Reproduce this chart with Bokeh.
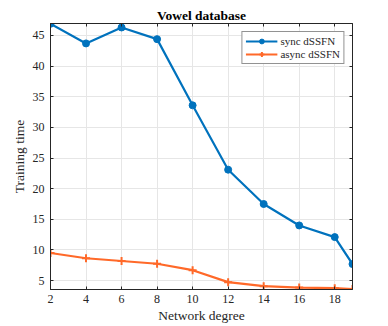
from bokeh.plotting import figure
from bokeh.models import Range1d, FixedTicker, LinearAxis, Legend, LegendItem
from bokeh.embed import file_html
from bokeh.resources import INLINE

degree = [2, 4, 6, 8, 10, 12, 14, 16, 18, 19]
sync_time = [46.9, 43.7, 46.3, 44.4, 33.6, 23.1, 17.5, 14.0, 12.1, 7.7]
async_time = [9.5, 8.65, 8.2, 7.75, 6.7, 4.75, 4.1, 3.87, 3.77, 3.62]
x_ticks = [2, 4, 6, 8, 10, 12, 14, 16, 18]
y_ticks = [5, 10, 15, 20, 25, 30, 35, 40, 45]

BLUE = "#0072BD"
ORANGE = "#FF6929"
AX = "#262626"
FONT = "Liberation Serif"

p = figure(width=388, height=326, output_backend="svg", toolbar_location=None,
           x_range=Range1d(2, 19), y_range=Range1d(3.55, 46.95),
           min_border_left=50, min_border_right=36, min_border_top=23, min_border_bottom=37)

p.title.text = "Vowel database"
p.title.text_font = FONT
p.title.text_font_size = "13.5px"
p.title.text_font_style = "bold"
p.title.align = "center"
p.title.text_color = "black"
p.title.standoff = 2
p.title.offset = 0

p.outline_line_color = AX
p.outline_line_width = 1
p.background_fill_color = "white"
p.border_fill_color = "white"

for ax, ticks, lab in ((p.xaxis[0], x_ticks, "Network degree"), (p.yaxis[0], y_ticks, "Training time")):
    ax.ticker = FixedTicker(ticks=ticks)
    ax.axis_label = lab
    ax.axis_label_text_font = FONT
    ax.axis_label_text_font_size = "13.5px"
    ax.axis_label_text_font_style = "normal"
    ax.axis_label_text_color = AX
    ax.major_label_text_font = FONT
    ax.major_label_text_font_size = "12px"
    ax.major_label_text_color = AX
    ax.axis_line_color = AX
    ax.major_tick_line_color = AX
    ax.major_tick_in = 3
    ax.major_tick_out = 0
    ax.minor_tick_line_color = None
p.xaxis[0].major_label_standoff = 5
p.xaxis[0].axis_label_standoff = 2
p.yaxis[0].major_label_standoff = 6
p.yaxis[0].axis_label_standoff = 3

# box ticks on top/right (labels blank)
top = LinearAxis(ticker=FixedTicker(ticks=x_ticks),
                 major_label_overrides={t: "" for t in x_ticks},
                 major_tick_in=3, major_tick_out=0, minor_tick_line_color=None,
                 axis_line_color=AX, major_tick_line_color=AX, major_label_standoff=0)
right = LinearAxis(ticker=FixedTicker(ticks=y_ticks),
                   major_label_overrides={t: "" for t in y_ticks},
                   major_tick_in=3, major_tick_out=0, minor_tick_line_color=None,
                   axis_line_color=AX, major_tick_line_color=AX, major_label_standoff=0)
p.add_layout(top, "above")
p.add_layout(right, "right")

p.xgrid.ticker = FixedTicker(ticks=x_ticks)
p.ygrid.ticker = FixedTicker(ticks=y_ticks)
p.grid.grid_line_color = "#E6E6E6"
p.grid.grid_line_width = 1

l1 = p.line(degree, sync_time, line_color=BLUE, line_width=2.2)
m1 = p.scatter(degree, sync_time, marker="circle", size=7, fill_color=BLUE, line_color=BLUE)
l2 = p.line(degree, async_time, line_color=ORANGE, line_width=2.2)
m2 = p.scatter(degree, async_time, marker="cross", size=8, line_color=ORANGE, line_width=2)

legend = Legend(items=[LegendItem(label="sync dSSFN", renderers=[l1, m1]),
                       LegendItem(label="async dSSFN", renderers=[l2, m2])],
                location="top_right")
legend.label_text_font = FONT
legend.label_text_font_size = "11px"
legend.label_text_color = AX
legend.border_line_color = AX
legend.border_line_width = 1
legend.glyph_width = 32
legend.glyph_height = 12
legend.label_height = 12
legend.spacing = 1
legend.padding = 3
legend.margin = 8
legend.label_standoff = 3
legend.background_fill_alpha = 1
p.add_layout(legend)

open("out.html", "w").write(file_html(p, INLINE))
